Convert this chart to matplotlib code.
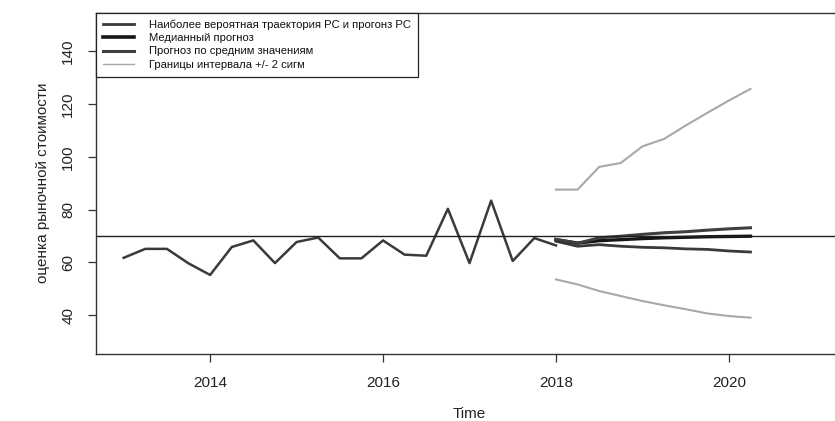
import numpy as np
import matplotlib
matplotlib.use("Agg")
import matplotlib.pyplot as plt

plt.rcParams['font.family'] = ['Liberation Sans', 'DejaVu Sans']

# quarterly history, 2013Q1 .. 2018Q1
hist_start = 2013.0
hist_values = [61.7, 65.1, 65.1, 59.6, 55.2, 65.8, 68.3, 59.7, 67.7, 69.4,
               61.5, 61.5, 68.3, 62.9, 62.5, 80.3, 59.7, 83.4, 60.5, 69.2, 66.4]

# forecasts, 2018Q1 .. 2020Q2
fc_start = 2018.0
fc_mode = [68.0, 66.1, 66.7, 66.1, 65.7, 65.5, 65.1, 64.9, 64.3, 63.9]
fc_median = [68.6, 67.3, 68.2, 68.6, 69.0, 69.3, 69.5, 69.7, 69.8, 69.9]
fc_mean = [68.7, 67.2, 69.3, 69.9, 70.6, 71.2, 71.6, 72.2, 72.7, 73.1]
fc_upper = [87.6, 87.6, 96.2, 97.7, 104.0, 106.8, 111.9, 116.7, 121.4, 125.8]
fc_lower = [53.5, 51.6, 49.1, 47.2, 45.3, 43.7, 42.2, 40.6, 39.6, 39.0]

ref_level = 70

legend_labels = ["Наиболее вероятная траектория РС и прогонз РС",
                 "Медианный прогноз",
                 "Прогноз по средним значениям",
                 "Границы интервала +/- 2 сигм"]

t_hist = hist_start + 0.25 * np.arange(len(hist_values))
t_fc = fc_start + 0.25 * np.arange(len(fc_mode))

W, H = 835, 421
fig = plt.figure(figsize=(W / 100, H / 100), dpi=100)
# right border of the plot box falls just past the figure edge
left, right, top, bottom = 96, 843, 12.5, 354
ax = fig.add_axes([left / W, 1 - bottom / H, (right - left) / W, (bottom - top) / H])

c_mode = "#3a3a3a"
c_median = "#151515"
c_mean = "#3f3f3f"
c_band = "#a8a8a8"

ax.plot(t_hist, hist_values, color=c_mode, lw=1.8)
ax.plot(t_fc, fc_mode, color=c_mode, lw=2.0)
ax.plot(t_fc, fc_median, color=c_median, lw=2.4)
ax.plot(t_fc, fc_mean, color=c_mean, lw=2.2)
ax.plot(t_fc, fc_upper, color=c_band, lw=1.5)
ax.plot(t_fc, fc_lower, color=c_band, lw=1.5)
ax.axhline(ref_level, color="#202020", lw=1.0)

ax.set_xlim(2013 - 0.32, 2021 + 0.32)
ax.set_ylim(30 - 4.8, 150 + 4.8)
ax.set_xticks([2014, 2016, 2018, 2020])
ax.set_yticks([40, 60, 80, 100, 120, 140])
ax.tick_params(axis='both', direction='out', length=6, width=0.9, color="#333333",
               labelsize=11, labelcolor="#222222")
ax.tick_params(axis='x', pad=10)
ax.tick_params(axis='y', pad=9)
for lab in ax.get_yticklabels():
    lab.set_rotation(90)
    lab.set_va('center')

for s in ax.spines.values():
    s.set_linewidth(1.0)
    s.set_color("#333333")

ax.set_xlabel("Time", fontsize=11, color="#222222", labelpad=12)
ax.set_ylabel("оценка рыночной стоимости", fontsize=11, color="#222222", labelpad=8)

handles = [
    plt.Line2D([], [], color=c_mode, lw=2.0),
    plt.Line2D([], [], color=c_median, lw=2.6),
    plt.Line2D([], [], color=c_mean, lw=2.2),
    plt.Line2D([], [], color=c_band, lw=1.0),
]
leg = ax.legend(handles, legend_labels, loc='upper left', bbox_to_anchor=(0, 1),
                borderaxespad=0, fancybox=False, framealpha=1, edgecolor="#222222",
                fontsize=8.1, handlelength=2.8, handletextpad=1.3, labelspacing=0.3,
                borderpad=0.6)
leg.get_frame().set_linewidth(0.9)
for txt in leg.get_texts():
    txt.set_color("#111111")

fig.savefig("out.png", dpi=100)
